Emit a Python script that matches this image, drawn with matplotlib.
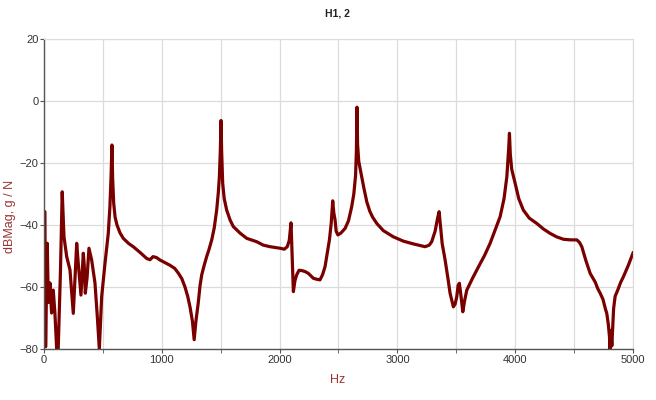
import numpy as np
import matplotlib
matplotlib.use("Agg")
import matplotlib.pyplot as plt

plt.rcParams['font.family'] = ['Liberation Sans', 'DejaVu Sans']

# traced FRF magnitude, H1,2
freq = [0, 8, 14, 28, 37, 51, 65, 79, 93, 108, 121, 140, 155, 170, 193, 221,
        249, 278, 291, 314, 334, 342, 351, 366, 382, 405, 433, 453, 470, 490,
        518, 546, 560, 570, 577, 583, 592, 604, 620, 645, 673, 720, 758, 820,
        872, 900, 926, 955, 985, 1030, 1070, 1110, 1140, 1170, 1197, 1220,
        1240, 1260, 1275, 1290, 1310, 1325, 1339, 1360, 1381, 1400, 1424,
        1445, 1466, 1480, 1489, 1497, 1503, 1508, 1517, 1530, 1551, 1580,
        1607, 1664, 1721, 1806, 1862, 1919, 2004, 2040, 2065, 2082, 2097,
        2105, 2117, 2130, 2145, 2165, 2188, 2215, 2244, 2287, 2315, 2343,
        2365, 2386, 2405, 2423, 2438, 2451, 2460, 2471, 2480, 2495, 2520,
        2556, 2585, 2612, 2630, 2645, 2652, 2657, 2662, 2672, 2697, 2715,
        2740, 2765, 2790, 2825, 2880, 2965, 3050, 3135, 3235, 3270, 3291,
        3320, 3340, 3354, 3365, 3380, 3405, 3430, 3447, 3475, 3490, 3504,
        3515, 3526, 3540, 3555, 3570, 3589, 3640, 3688, 3740, 3787, 3830,
        3872, 3905, 3929, 3945, 3951, 3958, 3970, 3999, 4030, 4069, 4120,
        4183, 4240, 4296, 4350, 4409, 4470, 4523, 4545, 4565, 4600, 4636,
        4680, 4700, 4721, 4745, 4765, 4777, 4790, 4800, 4805, 4812, 4820,
        4835, 4848, 4870, 4895, 4918, 4960, 5000]
db = [-36, -35.7, -79.3, -45.9, -65, -58.7, -68.4, -61, -68.4, -80, -80,
      -55, -29.3, -43.8, -50.2, -54.5, -68.5, -45.9, -52.3, -62.6, -49.1,
      -53, -62, -57, -47.5, -51.3, -58.7, -69.6, -80, -63.1, -52.4, -42.7,
      -34, -24, -14.2, -25, -33, -37.5, -40, -42.5, -44.3, -46, -47, -49,
      -50.8, -51.2, -50.2, -50.5, -51.3, -52.2, -53, -54, -55.5, -57.3, -60,
      -63, -66.5, -71, -77, -71, -65, -59.5, -56.1, -53, -50.2, -48, -44.8,
      -41, -35.2, -29.5, -24.4, -16, -6.3, -16, -26.5, -31.5, -35.2, -38.4,
      -40.5, -42.6, -44.3, -45.4, -46.5, -47, -47.5, -47.8, -47, -45, -39.3,
      -48, -61.5, -58, -56.1, -54.6, -54.7, -55, -55.6, -57.2, -57.5, -57.7,
      -56, -53.4, -49, -44.8, -39.5, -32.2, -36, -38.4, -42, -43.2, -42.6,
      -41.1, -38.6, -34.1, -30, -24, -16, -2.0, -14, -19.5, -24.4, -28, -32.5,
      -35.5, -37.5, -39.5, -41.8, -43.8, -45.2, -46.1, -47, -46.5, -45.4,
      -42, -38, -35.7, -40, -46, -51.3, -57.5, -62, -66.4, -65.5, -63.1,
      -59.5, -58.8, -63, -68, -64.5, -61, -57, -53.5, -49.8, -45.9, -41.5,
      -37.3, -31.5, -24.4, -15, -10.4, -17, -22, -26.5, -31.5, -35.2, -37.8,
      -39.5, -41.3, -42.7, -43.8, -44.6, -44.8, -44.8, -45.6, -47, -51.5,
      -55.6, -58.5, -60.5, -62, -64, -67, -68.5, -72, -76, -80, -74, -79,
      -67, -63, -61, -58.5, -56.7, -53, -49]

x_ticks = [0, 1000, 2000, 3000, 4000, 5000]
y_ticks = [-80, -60, -40, -20, 0, 20]

fig = plt.figure(figsize=(6.56, 4.0), dpi=100)
ax = fig.add_axes([0.067, 0.1275, 0.898, 0.775])

ax.plot(freq, db, color="#7a0000", lw=2.3, solid_joinstyle="round")

ax.set_xlim(0, 5000)
ax.set_ylim(-80, 20)
ax.set_xticks(x_ticks)
ax.set_xticks(np.arange(0, 5001, 500), minor=True)
ax.set_yticks(y_ticks)
ax.grid(True, which="both", axis="x", color="#dcdcdc", lw=0.9)
ax.grid(True, which="major", axis="y", color="#dcdcdc", lw=0.9)
ax.set_axisbelow(True)

for s in ["top", "right"]:
    ax.spines[s].set_color("#dcdcdc")
for s in ["left", "bottom"]:
    ax.spines[s].set_color("#555555")
    ax.spines[s].set_linewidth(1.0)

ax.tick_params(which="both", length=3, color="#555555", labelsize=8,
               labelcolor="#333333", pad=1)

fig.text(0.515, 0.965, "H1, 2", ha="center", va="center", fontsize=7.5,
         fontweight="bold", color="#222222")
fig.text(0.515, 0.05, "Hz", ha="center", va="center", fontsize=9,
         color="#993333")
fig.text(0.016, 0.46, "dBMag, g / N", ha="center", va="center", fontsize=9,
         color="#993333", rotation=90)

fig.savefig("out.png", dpi=100)
